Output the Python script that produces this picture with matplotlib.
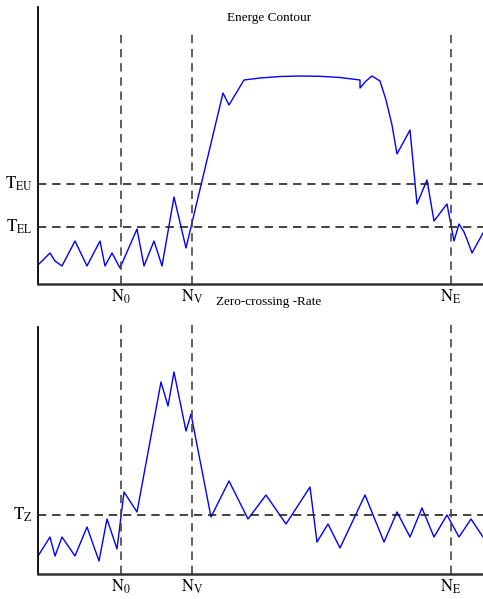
import numpy as np
import matplotlib
matplotlib.use('Agg')
import matplotlib.pyplot as plt

plt.rcParams['font.family'] = ['Liberation Serif', 'DejaVu Serif']
plt.rcParams['mathtext.fontset'] = 'stix'

# 能量曲线 (帧序号, 能量)
energy_x = [0, 12, 17, 24, 37, 49, 62, 67, 74, 82, 99, 106, 116, 124, 136, 148,
            185, 191, 206, 222, 242, 262, 282, 302, 322, 322, 328, 334, 342, 348,
            354, 359, 372, 379, 389, 396, 409, 416, 421, 426, 430, 434, 445]
energy_y = [19, 31, 23, 18, 43, 18, 43, 18, 31, 16, 55, 18, 43, 18, 87, 36,
            191, 179, 204, 206, 207.5, 208, 207.7, 206.5, 204, 196, 203, 208, 203, 184,
            159, 130, 154, 80, 104, 63, 80, 43, 60, 52, 42, 31, 51]

# 过零率曲线
zcr_x = [0, 12, 17, 24, 37, 49, 61, 69, 79, 86, 99, 123, 130, 136, 148, 153,
         173, 191, 210, 228, 248, 272, 279, 290, 302, 327, 346, 359, 372, 384,
         396, 409, 421, 433, 445]
zcr_y = [18, 37, 18, 37, 18, 47, 13, 55, 25, 82, 62, 192, 168, 202, 143, 160,
         57, 93, 55, 79, 50, 87, 32, 50, 26, 79, 32, 62, 37, 66,
         37, 59, 37, 55, 37]

# 端点与门限
N_pos = [83, 154, 413]
N_labels = [r'$\mathrm{N_0}$', r'$\mathrm{N_V}$', r'$\mathrm{N_E}$']
T_energy = [100, 57]
T_energy_labels = [r'$\mathrm{T_{EU}}$', r'$\mathrm{T_{EL}}$']
T_zcr = 59
T_zcr_label = r'$\mathrm{T_Z}$'

W, H = 483, 599
fig = plt.figure(figsize=(W / 100, H / 100), dpi=100)

ax1 = fig.add_axes([38 / W, 1 - 284 / H, 1 - 38 / W, 277 / H])
ax2 = fig.add_axes([38 / W, 1 - 574 / H, 1 - 38 / W, 253 / H])

dash = dict(linestyle=(0, (5, 3.5)), linewidth=1.2)


def style(ax, ytop, spine_top):
    ax.set_xlim(0, 445)
    ax.set_ylim(0, ytop)
    ax.set_xticks([])
    ax.set_yticks([])
    ax.spines['top'].set_visible(False)
    ax.spines['right'].set_visible(False)
    ax.spines['left'].set_bounds(0, spine_top)
    ax.spines['left'].set_linewidth(1.3)
    ax.spines['bottom'].set_linewidth(1.8)
    ax.spines['bottom'].set_color('#333333')
    ax.patch.set_alpha(0)


# 上图: 能量
style(ax1, 277, 277)
ax1.plot(energy_x, energy_y, color='#0000ff', linewidth=1.0)
for y, lab in zip(T_energy, T_energy_labels):
    ax1.axhline(y, color='#222222', **dash)
    ax1.annotate(lab, xy=(0, y), xytext=(-4, 0), textcoords='offset points',
                 ha='right', va='center', fontsize=12, annotation_clip=False)
for x, lab in zip(N_pos, N_labels):
    ax1.vlines(x, 0, 253, color='#444444', **dash)
    ax1.annotate(lab, xy=(x, 0), xytext=(0, -9.5), textcoords='offset points',
                 ha='center', va='center', fontsize=12, annotation_clip=False)

# 下图: 过零率
style(ax2, 253, 247)
ax2.plot(zcr_x, zcr_y, color='#0000ff', linewidth=1.0)
ax2.axhline(T_zcr, color='#222222', **dash)
ax2.annotate(T_zcr_label, xy=(0, T_zcr), xytext=(-4, 0), textcoords='offset points',
             ha='right', va='center', fontsize=12, annotation_clip=False)
for x, lab in zip(N_pos, N_labels):
    ax2.vlines(x, 0, 253, color='#444444', **dash)
    ax2.annotate(lab, xy=(x, 0), xytext=(0, -9), textcoords='offset points',
                 ha='center', va='center', fontsize=12, annotation_clip=False)

fig.text(269 / W, 1 - 18 / H, 'Energe Contour', ha='center', va='center', fontsize=9.5)
fig.text(269 / W, 1 - 302 / H, 'Zero-crossing -Rate', ha='center', va='center', fontsize=9.5)

fig.savefig('out.png', dpi=100)
